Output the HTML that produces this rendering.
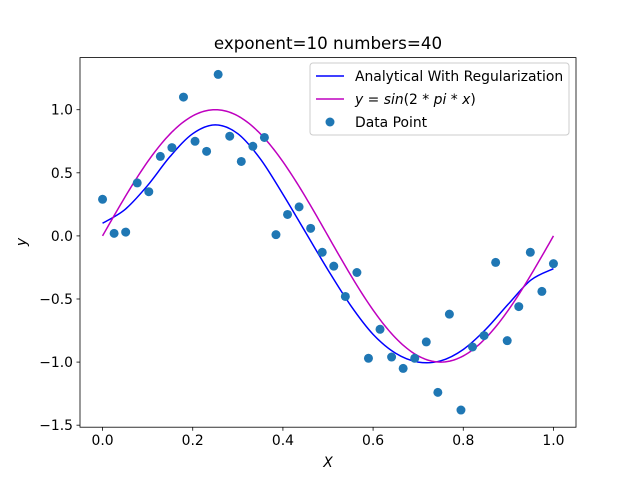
<!DOCTYPE html>
<html><head><meta charset="utf-8"><style>
body{margin:0;background:#fff}
svg{display:block;font-family:"DejaVu Sans","Liberation Sans",sans-serif}
</style></head><body>
<svg id="c" width="640" height="480" xmlns="http://www.w3.org/2000/svg">
<rect width="640" height="480" fill="#fff"/>
<text x="328" y="49" text-anchor="middle" font-size="16.7">exponent=10 numbers=40</text>
<g id="plot"></g>
<rect x="80" y="57.6" width="496" height="369.6" fill="none" stroke="#000" stroke-width="0.8"/>
<text x="328" y="467" text-anchor="middle" font-size="13.9" font-style="italic">X</text>
<text x="26" y="242" text-anchor="middle" font-size="13.9" font-style="italic" transform="rotate(-90 26 242)">y</text>
<g>
<rect x="310" y="63" width="259" height="72" rx="3" fill="#fff" fill-opacity="0.8" stroke="#ccc"/>
<line x1="316" y1="76" x2="344" y2="76" stroke="#0000ff" stroke-width="1.5"/>
<text x="355" y="81" font-size="13.9">Analytical With Regularization</text>
<line x1="316" y1="99" x2="344" y2="99" stroke="#bf00bf" stroke-width="1.5"/>
<text x="355" y="104" font-size="13.9"><tspan font-style="italic">y</tspan> = <tspan font-style="italic">sin</tspan>(2 * <tspan font-style="italic">pi</tspan> * <tspan font-style="italic">x</tspan>)</text>
<circle cx="330" cy="122" r="4.5" fill="#1f77b4"/>
<text x="355" y="127" font-size="13.9">Data Point</text>
</g>
</svg>
<script>
const pointsY=[0.29,0.02,0.03,0.42,0.35,0.63,0.70,1.10,0.75,0.67,1.28,0.79,0.59,0.71,0.78,0.01,0.17,0.23,0.06,-0.13,-0.24,-0.48,-0.29,-0.97,-0.74,-0.96,-1.05,-0.97,-0.84,-1.24,-0.62,-1.38,-0.88,-0.79,-0.21,-0.83,-0.56,-0.13,-0.44,-0.22];
const fitX=[0,0.05,0.1,0.15,0.2,0.25,0.3,0.35,0.4,0.45,0.5,0.55,0.6,0.65,0.7,0.75,0.8,0.85,0.9,0.95,1.0];
const fitY=[0.10,0.21,0.40,0.63,0.81,0.88,0.81,0.61,0.33,0.03,-0.27,-0.55,-0.78,-0.93,-1.0,-0.99,-0.90,-0.74,-0.54,-0.35,-0.26];
const xTicks=[0,0.2,0.4,0.6,0.8,1.0];
const xTickLabels=["0.0","0.2","0.4","0.6","0.8","1.0"];
const yTicks=[-1.5,-1.0,-0.5,0,0.5,1.0];
const yTickLabels=["−1.5","−1.0","−0.5","0.0","0.5","1.0"];
const NS="http://www.w3.org/2000/svg";
const X0=80,X1=576,Y0=57.6,Y1=427.2,xmin=-0.05,xmax=1.05,ymin=-1.516,ymax=1.413;
const sx=v=>X0+(v-xmin)/(xmax-xmin)*(X1-X0);
const sy=v=>Y1-(v-ymin)/(ymax-ymin)*(Y1-Y0);
const g=document.getElementById('plot');
function mk(t,a){const e=document.createElementNS(NS,t);for(const k in a)e.setAttribute(k,a[k]);g.appendChild(e);return e;}
xTicks.forEach((t,i)=>{
 const l=mk('line',{x1:sx(t),x2:sx(t),y1:Y1,y2:Y1+3.5,stroke:'#000','stroke-width':0.8});
 
 
 const tx=mk('text',{x:sx(t),y:Y1+18,'text-anchor':'middle','font-size':13.9});
 tx.textContent=xTickLabels[i];
 
 
});
yTicks.forEach((t,i)=>{
 const l=mk('line',{x1:X0-3.5,x2:X0,y1:sy(t),y2:sy(t),stroke:'#000','stroke-width':0.8});
 
 
 const tx=mk('text',{x:X0-7,y:sy(t)+5,'text-anchor':'end','font-size':13.9});
 tx.textContent=yTickLabels[i];
 
 
});
let pts=fitX.map((x,i)=>[sx(x),sy(fitY[i])]);
let d='M'+pts[0][0]+','+pts[0][1];
for(let i=0;i<pts.length-1;i++){const p0=pts[Math.max(0,i-1)],p1=pts[i],p2=pts[i+1],p3=pts[Math.min(pts.length-1,i+2)];
 d+=' C'+(p1[0]+(p2[0]-p0[0])/6)+','+(p1[1]+(p2[1]-p0[1])/6)+' '+(p2[0]-(p3[0]-p1[0])/6)+','+(p2[1]-(p3[1]-p1[1])/6)+' '+p2[0]+','+p2[1];}
const fl=mk('path',{d:d,fill:'none',stroke:'#0000ff','stroke-width':1.5});


let ds='';for(let i=0;i<=200;i++){const x=i/200;ds+=(i?'L':'M')+sx(x)+','+sy(Math.sin(2*Math.PI*x));}
const sl=mk('path',{d:ds,fill:'none',stroke:'#bf00bf','stroke-width':1.5});


pointsY.forEach((v,i)=>{
 const c=mk('circle',{cx:sx(i/(pointsY.length-1)),cy:sy(v),r:4.5,fill:'#1f77b4'});
 
 
});
</script>
</body></html>
